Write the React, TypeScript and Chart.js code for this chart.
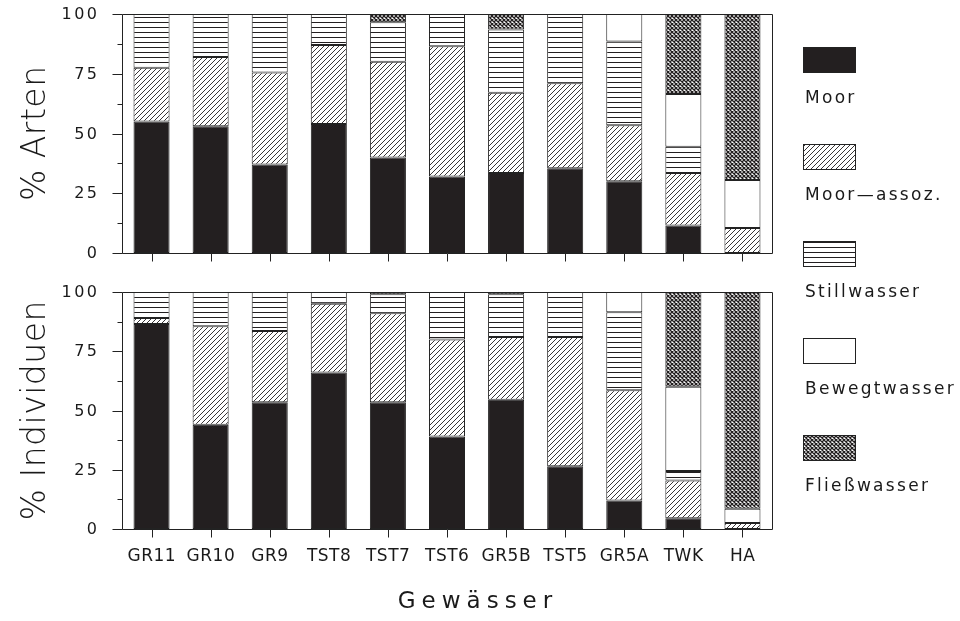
import React, { useEffect, useRef } from 'react';
import { Chart, registerables } from 'chart.js';

Chart.register(...registerables);

const categories = ['GR11', 'GR10', 'GR9', 'TST8', 'TST7', 'TST6', 'GR5B', 'TST5', 'GR5A', 'TWK', 'HA'];
const seriesNames = ['Moor', 'Moor\u2014assoz.', 'Stillwasser', 'Bewegtwasser', 'Flie\u00dfwasser'];

// % Arten (top panel)
const artenMoor = [55, 53, 37, 54, 40, 32, 33.5, 35.5, 30, 11.5, 0];
const artenAssoz = [22.5, 29, 38.5, 33, 40, 54.5, 33.5, 35.5, 23.5, 22, 10.5];
const artenStill = [22.5, 18, 24.5, 13, 16.5, 13.5, 26.5, 29, 35, 11, 0];
const artenBeweg = [0, 0, 0, 0, 0, 0, 0, 0, 11.5, 22, 20];
const artenFliess = [0, 0, 0, 0, 3.5, 0, 6.5, 0, 0, 33.5, 69.5];

// % Individuen (bottom panel)
const indMoor = [86.5, 44, 53.5, 66, 53.5, 39, 54.5, 26.5, 12, 4.5, 0];
const indAssoz = [2.5, 41.5, 30, 29, 37.5, 41, 26.5, 54.5, 46.5, 16, 2.5];
const indStill = [11, 14.5, 16.5, 5, 8, 20, 18, 19, 33, 4, 0];
const indBeweg = [0, 0, 0, 0, 0, 0, 0, 0, 8.5, 35.5, 6];
const indFliess = [0, 0, 0, 0, 1, 0, 1, 0, 0, 40, 91.5];

const yMajorTicks = [0, 25, 50, 75, 100];
const yMinorStep = 12.5;

const topTitle = '% Arten';
const bottomTitle = '% Individuen';
const xTitle = 'Gew\u00e4sser';

const INK = '#231f20';
const FONT = '"DejaVu Sans"';

function makeTile(size: number, draw: (c: CanvasRenderingContext2D) => void, w?: number) {
  const cv = document.createElement('canvas');
  cv.width = w ?? size;
  cv.height = size;
  const c = cv.getContext('2d')!;
  c.fillStyle = '#ffffff';
  c.fillRect(0, 0, cv.width, cv.height);
  c.strokeStyle = INK;
  c.fillStyle = INK;
  draw(c);
  return cv;
}

function makeFills(ctx: CanvasRenderingContext2D): (string | CanvasPattern)[] {
  const diag = makeTile(5, (c) => {
    c.lineWidth = 0.9;
    c.beginPath();
    c.moveTo(-1, 6); c.lineTo(6, -1);
    c.moveTo(-1, 1); c.lineTo(1, -1);
    c.moveTo(4, 6); c.lineTo(6, 4);
    c.stroke();
  });
  const horiz = makeTile(5, (c) => {
    c.fillRect(0, 2, 4, 1);
  }, 4);
  const cross = makeTile(4, (c) => {
    c.lineWidth = 1.3;
    c.beginPath();
    c.moveTo(-1, -1); c.lineTo(5, 5);
    c.moveTo(-1, 5); c.lineTo(5, -1);
    c.stroke();
  });
  return [
    INK,
    ctx.createPattern(diag, 'repeat')!,
    ctx.createPattern(horiz, 'repeat')!,
    '#ffffff',
    ctx.createPattern(cross, 'repeat')!,
  ];
}

function spacedText(
  ctx: CanvasRenderingContext2D,
  text: string,
  x: number,
  y: number,
  font: string,
  spacing: number,
  align: CanvasTextAlign,
  baseline: CanvasTextBaseline,
  rotate = 0,
) {
  ctx.save();
  ctx.font = font;
  (ctx as any).letterSpacing = spacing + 'px';
  ctx.textAlign = align;
  ctx.textBaseline = baseline;
  ctx.fillStyle = '#1a1a1a';
  ctx.translate(x, y);
  if (rotate) ctx.rotate(rotate);
  let dx = 0;
  if (align === 'right') dx = spacing;
  else if (align === 'center') dx = spacing / 2;
  ctx.fillText(text, dx, 0);
  ctx.restore();
}

function makeChart(
  canvas: HTMLCanvasElement,
  series: number[][],
  padTop: number,
  padBottom: number,
  isBottom: boolean,
) {
  const ctx = canvas.getContext('2d')!;
  const fills = makeFills(ctx);

  const decor = {
    id: 'decor' + (isBottom ? 'B' : 'T'),
    afterDraw(chart: any) {
      const c: CanvasRenderingContext2D = chart.ctx;
      const area = chart.chartArea;
      const xs = chart.scales.x;
      const ys = chart.scales.y;
      const L = Math.round(area.left) + 0.5;
      const R = Math.round(area.right) + 0.5;
      const T = Math.round(area.top) + 0.5;
      const B = Math.round(area.bottom) + 0.5;
      c.save();
      c.strokeStyle = '#222';
      c.lineWidth = 1;
      c.beginPath();
      c.rect(L, T, R - L, B - T);
      for (let v = 0; v <= 100 + 1e-6; v += yMinorStep) {
        const py = Math.round(ys.getPixelForValue(v)) + 0.5;
        const major = yMajorTicks.includes(v);
        c.moveTo(L - (major ? 10 : 5), py);
        c.lineTo(L, py);
      }
      for (let i = 0; i < categories.length; i++) {
        const px = Math.round(xs.getPixelForValue(i)) + 0.5;
        c.moveTo(px, B);
        c.lineTo(px, B + 8);
      }
      c.stroke();
      c.restore();

      for (const v of yMajorTicks) {
        const py = ys.getPixelForValue(v);
        spacedText(c, String(v), 97, py + 1, `16px ${FONT}`, 2.5, 'right', 'middle');
      }

      const midY = (area.top + area.bottom) / 2;
      spacedText(c, isBottom ? bottomTitle : topTitle, 45, midY, `300 33px ${FONT}`, 0.5, 'center', 'alphabetic', -Math.PI / 2);

      if (isBottom) {
        for (let i = 0; i < categories.length; i++) {
          const px = xs.getPixelForValue(i);
          spacedText(c, categories[i], px, 561, `17px ${FONT}`, 0.5, 'center', 'alphabetic');
        }
        spacedText(c, xTitle, (area.left + area.right) / 2 + 28, 608, `23px ${FONT}`, 6, 'center', 'alphabetic');
      } else {
        for (let i = 0; i < seriesNames.length; i++) {
          const top = 47 + i * 97;
          c.save();
          c.fillStyle = fills[i] as any;
          c.fillRect(803, top, 52, 25);
          c.strokeStyle = '#222';
          c.lineWidth = 1;
          c.strokeRect(803.5, top + 0.5, 52, 25);
          c.restore();
          spacedText(c, seriesNames[i], 805, top + 56, `17px ${FONT}`, 2.3, 'left', 'alphabetic');
        }
      }
    },
  };

  return new Chart(canvas, {
    type: 'bar',
    data: {
      labels: categories,
      datasets: series.map((vals, i) => ({
        label: seriesNames[i],
        data: vals.map((v) => (v === 0 ? null : v)),
        backgroundColor: fills[i] as any,
        borderColor: '#222',
        borderWidth: 1,
        borderSkipped: false,
        barPercentage: 0.61,
        categoryPercentage: 1,
      })),
    },
    options: {
      responsive: false,
      animation: false,
      events: [],
      layout: { padding: { left: 0, right: 188, top: padTop, bottom: padBottom } },
      plugins: { legend: { display: false }, tooltip: { enabled: false } },
      scales: {
        x: {
          stacked: true,
          grid: { display: false },
          border: { display: false },
          ticks: { display: false },
          afterFit: (s: any) => { s.height = 0; },
        },
        y: {
          stacked: true,
          min: 0,
          max: 100,
          grid: { display: false },
          border: { display: false },
          ticks: { display: false },
          afterFit: (s: any) => { s.width = 122; },
        },
      },
    },
    plugins: [decor],
  } as any);
}

export default function App() {
  const topRef = useRef<HTMLCanvasElement>(null);
  const botRef = useRef<HTMLCanvasElement>(null);

  useEffect(() => {
    document.body.style.margin = '0';
    const c1 = makeChart(topRef.current!, [artenMoor, artenAssoz, artenStill, artenBeweg, artenFliess], 14, 621 - 253, false);
    const c2 = makeChart(botRef.current!, [indMoor, indAssoz, indStill, indBeweg, indFliess], 292, 621 - 529, true);
    return () => {
      c1.destroy();
      c2.destroy();
    };
  }, []);

  const cs: React.CSSProperties = { position: 'absolute', left: 0, top: 0, width: 960, height: 621 };
  return (
    <div style={{ position: 'fixed', left: 0, top: 0, width: 960, height: 621, background: '#fff' }}>
      <canvas ref={topRef} width={960} height={621} style={cs} />
      <canvas ref={botRef} width={960} height={621} style={cs} />
    </div>
  );
}
